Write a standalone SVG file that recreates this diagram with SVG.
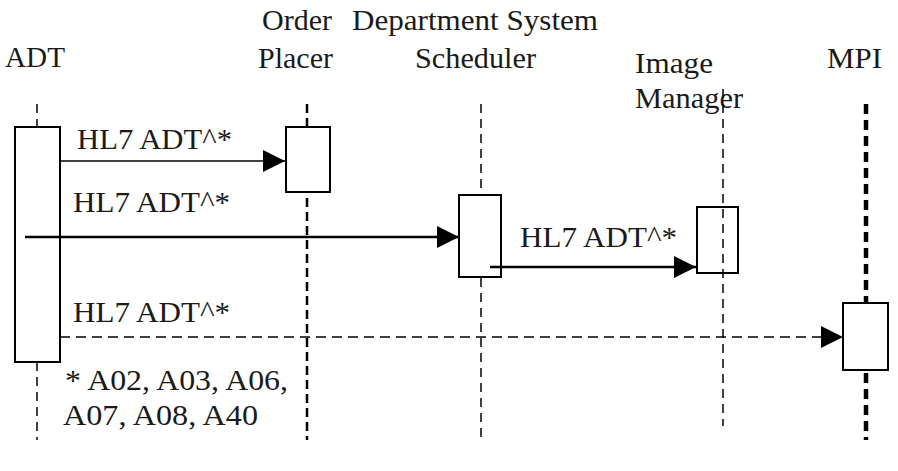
<svg xmlns="http://www.w3.org/2000/svg" width="898" height="471" viewBox="0 0 898 471">
<style>
  .t { font-family: 'Liberation Serif', 'Times New Roman', Times, serif; font-size: 29px; fill: #1a1a1a; }
  .box { fill: #ffffff; stroke: #000000; stroke-width: 2; }
  .life { fill: none; stroke: #000000; stroke-width: 1.5; stroke-dasharray: 9 6; }
  .life2 { fill: none; stroke: #000000; stroke-width: 2.5; stroke-dasharray: 9 5; }
  .life3 { fill: none; stroke: #000000; stroke-width: 4.5; stroke-dasharray: 10 6; }
  .msg { fill: none; stroke: #000000; }
</style>
<defs>
  <marker id="ah" markerUnits="userSpaceOnUse" markerWidth="23" markerHeight="24" refX="22" refY="12" orient="auto">
    <path d="M0,1 L22,12 L0,23 Z" fill="#000000"/>
  </marker>
</defs>
<rect width="898" height="471" fill="#ffffff"/>

<g id="adt">
  <text class="t" font-family="Liberation Serif, serif" x="5" y="67" textLength="60" lengthAdjust="spacingAndGlyphs">ADT</text>
  <line class="life" x1="37" y1="104" x2="37" y2="126"/>
  <line class="life" x1="37" y1="362" x2="37" y2="440"/>
  <rect class="box" x="15" y="127" width="45" height="235"/>
</g>

<g id="order-placer">
  <text class="t" x="262" y="30" textLength="70" lengthAdjust="spacingAndGlyphs">Order</text>
  <text class="t" x="258" y="68" textLength="75" lengthAdjust="spacingAndGlyphs">Placer</text>
  <line class="life2" x1="307" y1="104" x2="307" y2="126"/>
  <line class="life2" x1="307" y1="198" x2="307" y2="440"/>
  <rect class="box" x="286" y="127" width="44" height="65"/>
</g>

<g id="scheduler">
  <text class="t" x="352" y="30" textLength="246" lengthAdjust="spacingAndGlyphs">Department System</text>
  <text class="t" x="415" y="68" textLength="121" lengthAdjust="spacingAndGlyphs">Scheduler</text>
  <line class="life" x1="481" y1="104" x2="481" y2="194"/>
  <line class="life" x1="481" y1="278" x2="481" y2="440"/>
  <rect class="box" x="459" y="195" width="42" height="82"/>
</g>

<g id="image-manager">
  <text class="t" x="635" y="73" textLength="78" lengthAdjust="spacingAndGlyphs">Image</text>
  <text class="t" x="635" y="108" textLength="108" lengthAdjust="spacingAndGlyphs">Manager</text>
  <rect class="box" x="697" y="207" width="41" height="66"/>
  <line class="life" x1="723" y1="89" x2="723" y2="426"/>
</g>

<g id="mpi">
  <text class="t" x="827" y="68" textLength="55" lengthAdjust="spacingAndGlyphs">MPI</text>
  <line class="life3" x1="866" y1="104" x2="866" y2="302"/>
  <line class="life3" x1="866" y1="373" x2="866" y2="440"/>
  <rect class="box" x="843" y="303" width="45" height="67"/>
</g>

<g id="connectors">
  <line class="msg" x1="60" y1="161" x2="285" y2="161" stroke-width="1.5" marker-end="url(#ah)"/>
  <text class="t" x="77" y="149" textLength="155" lengthAdjust="spacingAndGlyphs">HL7 ADT^*</text>

  <line class="msg" x1="25" y1="237" x2="459" y2="237" stroke-width="2.5" marker-end="url(#ah)"/>
  <text class="t" x="73" y="212" textLength="157" lengthAdjust="spacingAndGlyphs">HL7 ADT^*</text>

  <line class="msg" x1="490" y1="267" x2="696" y2="267" stroke-width="2.5" marker-end="url(#ah)"/>
  <text class="t" x="520" y="247" textLength="157" lengthAdjust="spacingAndGlyphs">HL7 ADT^*</text>

  <line class="msg" x1="60" y1="337" x2="843" y2="337" stroke="#333333" stroke-width="1.5" stroke-dasharray="10 6" marker-end="url(#ah)"/>
  <text class="t" x="73" y="322" textLength="157" lengthAdjust="spacingAndGlyphs">HL7 ADT^*</text>
</g>

<g id="footnote">
  <text class="t" x="65" y="390" textLength="223" lengthAdjust="spacingAndGlyphs">* A02, A03, A06,</text>
  <text class="t" x="63" y="425" textLength="195" lengthAdjust="spacingAndGlyphs">A07, A08, A40</text>
</g>
</svg>
